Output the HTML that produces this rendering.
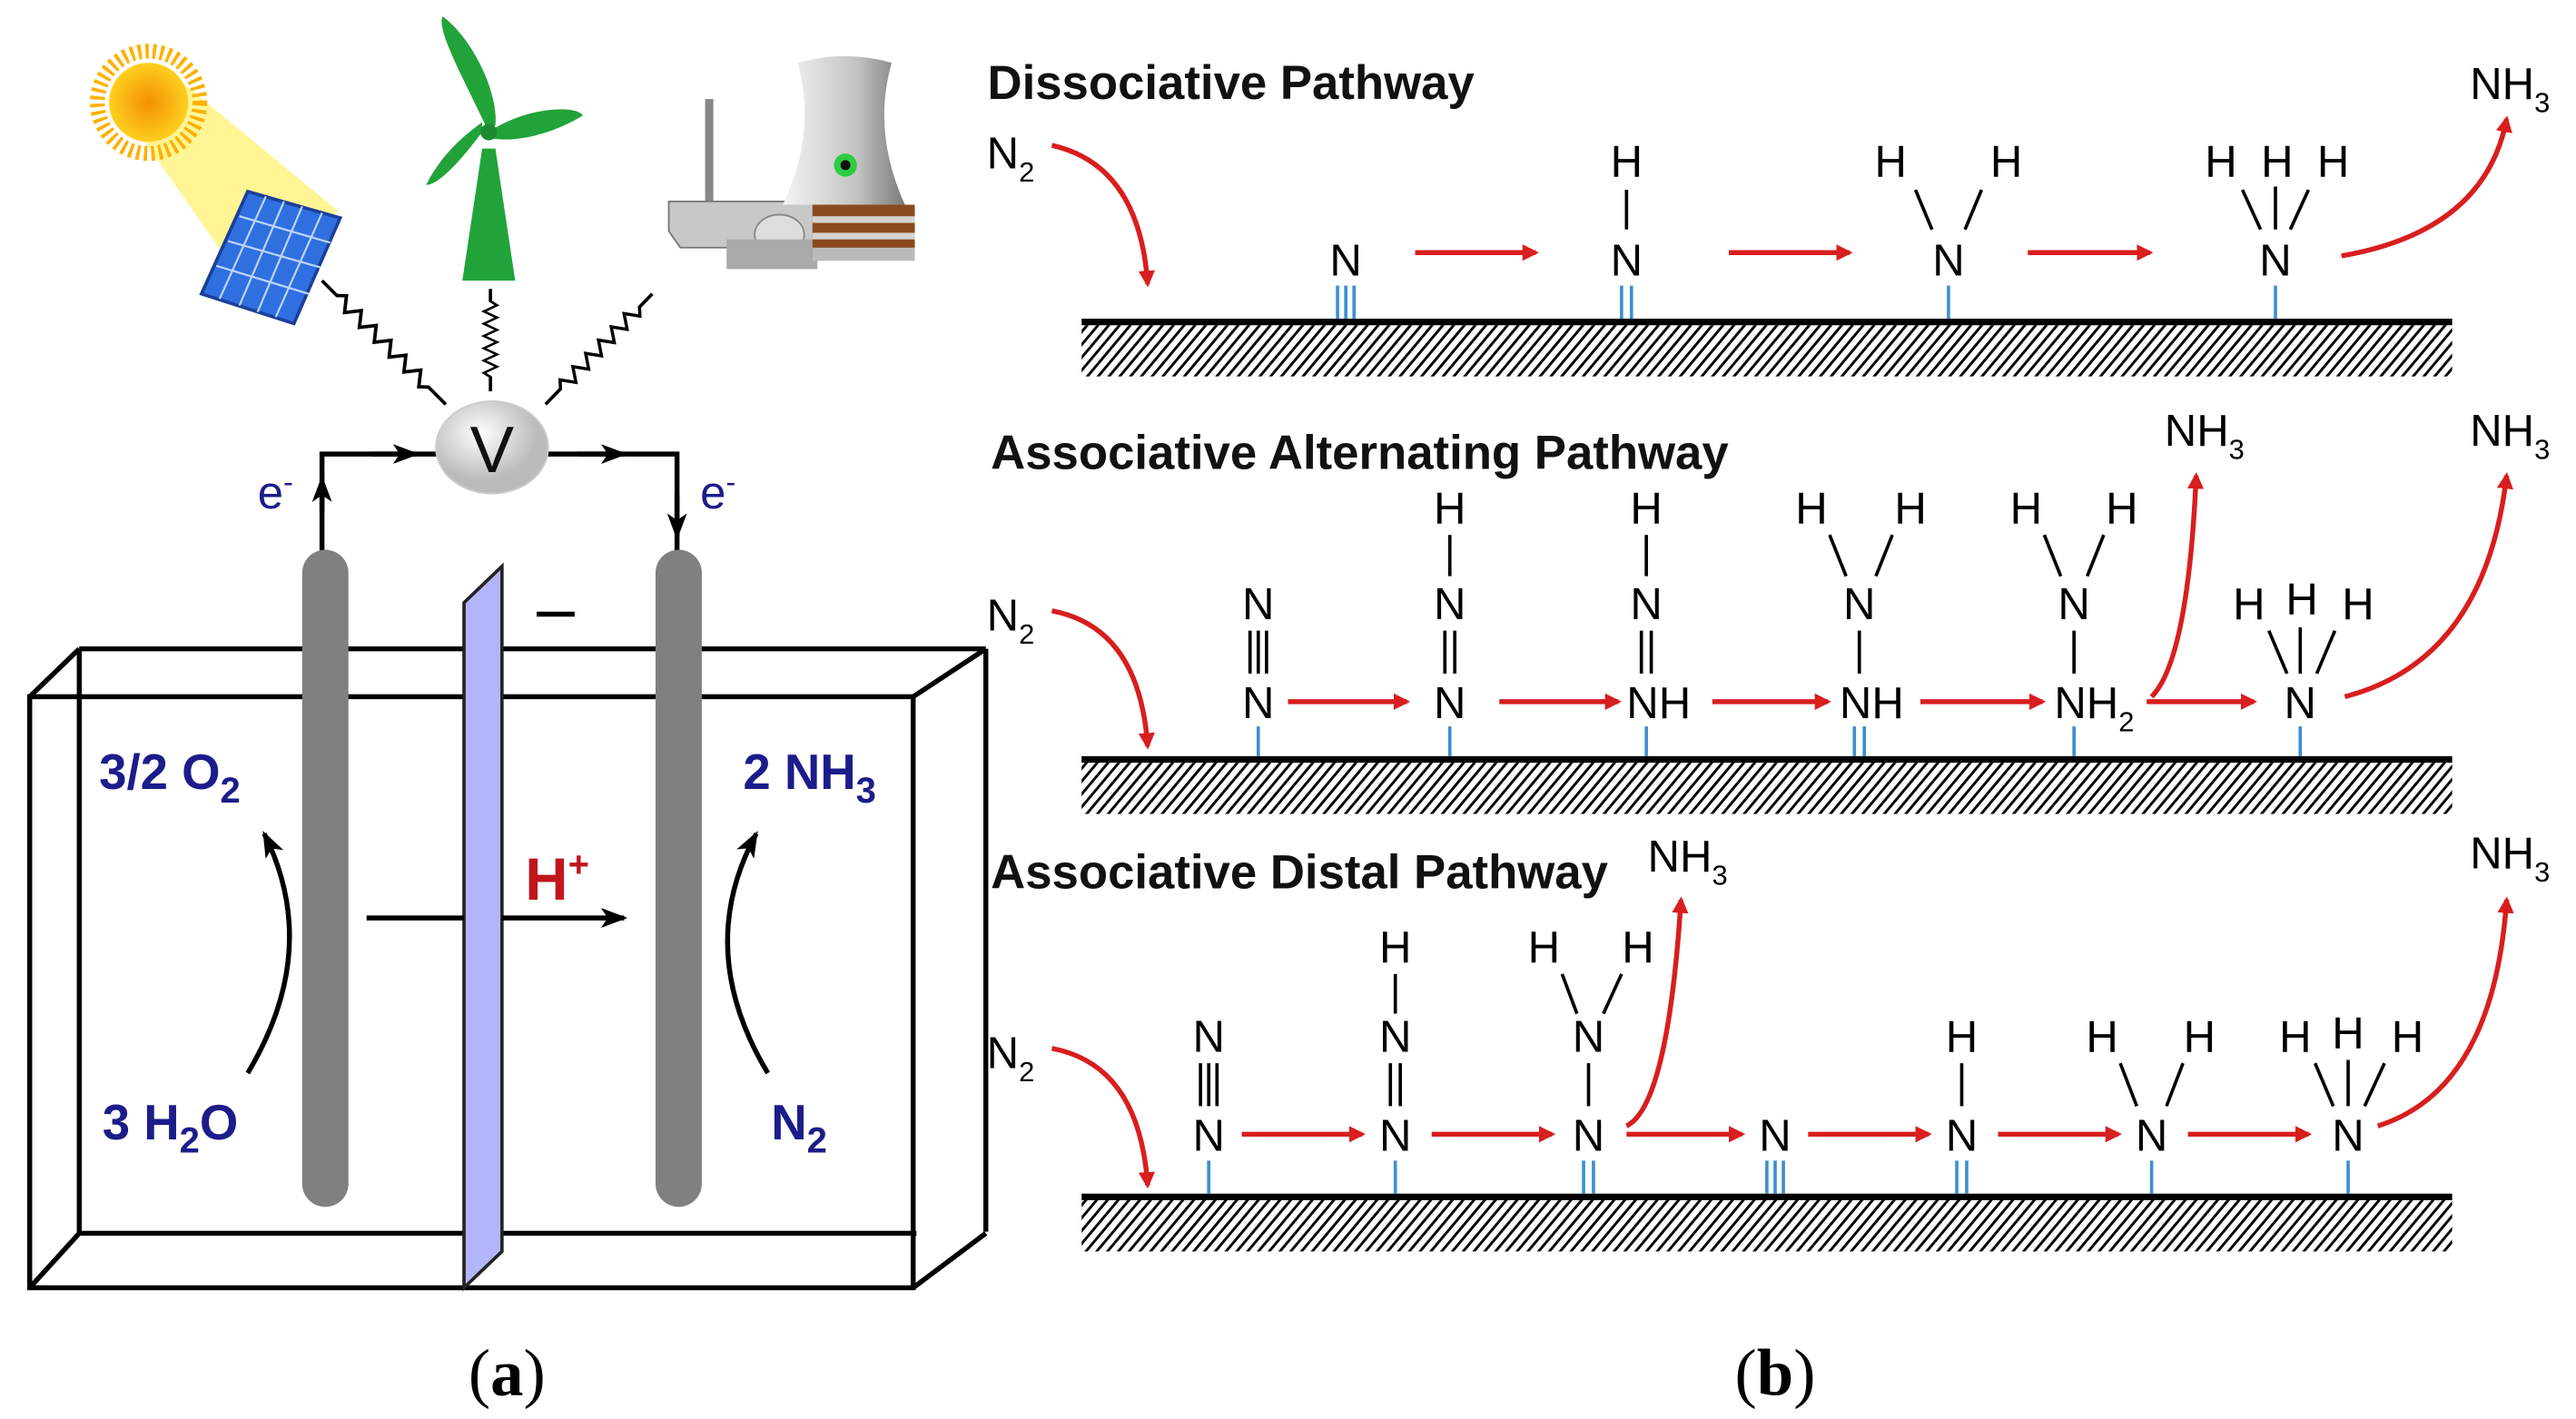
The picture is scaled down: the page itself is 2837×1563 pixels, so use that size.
<!DOCTYPE html>
<html><head><meta charset="utf-8"><style>
html,body{margin:0;padding:0;background:#fff;}
svg{display:block;}
.t{font-family:"Liberation Sans Narrow","Liberation Sans",sans-serif;font-size:27px;fill:#000;text-anchor:middle;}
.s{font-size:17px;}
.ti{font-family:"Liberation Sans Narrow","Liberation Sans",sans-serif;font-size:29px;font-weight:bold;fill:#111;}
.bl{font-family:"Liberation Sans",sans-serif;font-weight:bold;fill:#1c1c8a;font-size:30px;}
.bond{stroke:#000;stroke-width:2;}
.blue{stroke:#3d8fd0;stroke-width:2;}
.ra{stroke:#d81e1e;stroke-width:3;fill:none;marker-end:url(#rh);}
</style></head><body>
<svg width="2837" height="1563" viewBox="0 0 1560 859.5" preserveAspectRatio="none" xmlns="http://www.w3.org/2000/svg">
<defs>
<marker id="rh" markerWidth="10" markerHeight="10" refX="8" refY="5" orient="auto" markerUnits="userSpaceOnUse"><path d="M0,0 L10,5 L0,10 z" fill="#d81e1e"/></marker>
<marker id="bh" markerWidth="16" markerHeight="12" refX="14" refY="6" orient="auto" markerUnits="userSpaceOnUse"><path d="M0,0 L16,6 L0,12 L4,6 z" fill="#000"/></marker>
<pattern id="hatch" width="5" height="5" patternUnits="userSpaceOnUse" patternTransform="rotate(40)"><line x1="1" y1="0" x2="1" y2="5" stroke="#000" stroke-width="1.6"/></pattern>
<radialGradient id="sun"><stop offset="0" stop-color="#f39000"/><stop offset="1" stop-color="#ffcf20"/></radialGradient>
<radialGradient id="vg" cx="0.4" cy="0.35"><stop offset="0" stop-color="#fff"/><stop offset="1" stop-color="#bbb"/></radialGradient>
<linearGradient id="tw" x1="0" x2="1"><stop offset="0" stop-color="#f4f4f4"/><stop offset="0.6" stop-color="#c4c4c4"/><stop offset="1" stop-color="#7a7a7a"/></linearGradient>
<path id="zz" d="M0 0 L12 0 L16 -4 L22 4 L28 -4 L34 4 L40 -4 L46 4 L52 -4 L58 4 L64 -4 L70 4 L76 -4 L82 4 L86 0 L100 0" fill="none" stroke="#000" stroke-width="2"/>
</defs>

<!-- ===== Panel (a) ===== -->
<polygon points="78,72 108,48 205,128 150,175" fill="#fff48a" opacity="0.9"/>
<circle cx="90" cy="62" r="31" fill="none" stroke="#ffb000" stroke-dasharray="2 2.5" stroke-width="9"/>
<circle cx="90" cy="62" r="24" fill="url(#sun)"/>
<polygon points="122,178 178,196 206,132 150,116" fill="#2f6fe0" stroke="#1b3f9a" stroke-width="2"/>
<g stroke="#bcd6ff" stroke-width="1.2">
<line x1="131" y1="161" x2="187" y2="178"/><line x1="138" y1="146" x2="194" y2="162"/><line x1="145" y1="131" x2="200" y2="147"/>
<line x1="133" y1="181" x2="161" y2="119"/><line x1="145" y1="185" x2="172" y2="122"/><line x1="156" y1="189" x2="183" y2="125"/><line x1="167" y1="192" x2="195" y2="129"/>
</g>
<!-- wind turbine -->
<polygon points="292,90 300,90 312,170 280,170" fill="#22a33a"/>
<path d="M295,78 C282,50 264,18 268,10 C285,22 302,55 300,76 z" fill="#22a33a"/>
<path d="M299,78 C322,64 350,64 353,70 C333,82 312,86 299,84 z" fill="#22a33a"/>
<path d="M292,80 C280,96 266,112 258,112 C266,96 278,84 292,74 z" fill="#22a33a"/>
<circle cx="296" cy="80" r="5" fill="#1d8a30"/>
<!-- nuclear plant -->
<rect x="427" y="60" width="5" height="72" fill="#888"/>
<polygon points="405,122 500,122 500,150 412,150 405,140" fill="#c8c8c8" stroke="#777"/>
<path d="M483,38 Q512,30 540,38 Q528,80 548,124 L474,124 Q495,80 483,38 z" fill="url(#tw)"/>
<circle cx="512" cy="100" r="7" fill="#2ecc40"/><circle cx="512" cy="100" r="3" fill="#111"/>
<ellipse cx="472" cy="142" rx="15" ry="12" fill="#ddd" stroke="#888"/>
<rect x="440" y="145" width="55" height="18" fill="#aaa"/>
<rect x="492" y="124" width="62" height="32" fill="#8b4a1e"/>
<rect x="492" y="131" width="62" height="4" fill="#d4d4d4"/><rect x="492" y="141" width="62" height="4" fill="#d4d4d4"/>
<rect x="492" y="150" width="62" height="8" fill="#bbb"/>
<use href="#zz" transform="translate(195,170) rotate(45) scale(1.06,1)"/>
<use href="#zz" transform="translate(297,175) rotate(90) scale(0.62,1)"/>
<use href="#zz" transform="translate(395,178) rotate(134) scale(0.93,1)"/>
<polyline points="195,362 195,275 268,275" fill="none" stroke="#000" stroke-width="3"/>
<polyline points="330,275 410,275 410,362" fill="none" stroke="#000" stroke-width="3"/>
<path d="M195,310 L195,290" stroke="#000" stroke-width="3" marker-end="url(#bh)"/>
<path d="M225,275 L252,275" stroke="#000" stroke-width="3" marker-end="url(#bh)"/>
<path d="M350,275 L378,275" stroke="#000" stroke-width="3" marker-end="url(#bh)"/>
<path d="M410,300 L410,325" stroke="#000" stroke-width="3" marker-end="url(#bh)"/>
<ellipse cx="298" cy="271" rx="34" ry="28" fill="url(#vg)" stroke="#ccc"/>
<text x="298" y="286" text-anchor="middle" font-family="Liberation Sans,sans-serif" font-size="40" fill="#111">V</text>
<text x="156" y="308" class="bl" style="font-weight:normal;font-size:28px">e<tspan dy="-10" font-size="18">-</tspan></text>
<text x="424" y="308" class="bl" style="font-weight:normal;font-size:28px">e<tspan dy="-10" font-size="18">-</tspan></text>
<g stroke="#000" stroke-width="3" fill="none">
<line x1="48" y1="393" x2="597" y2="393"/>
<line x1="48" y1="393" x2="48" y2="747"/>
<line x1="48" y1="747" x2="555" y2="747"/>
<line x1="18" y1="422" x2="48" y2="393"/>
<line x1="553" y1="422" x2="597" y2="393"/>
<line x1="597" y1="393" x2="597" y2="746"/>
<line x1="553" y1="780" x2="597" y2="747"/>
<line x1="18" y1="780" x2="48" y2="747"/>
<rect x="18" y="422" width="535" height="358"/>
</g>
<rect x="183" y="333" width="28" height="398" rx="14" fill="#808080"/>
<rect x="397" y="333" width="28" height="398" rx="14" fill="#808080"/>
<polygon points="281,365 304,343 304,758 281,780" fill="#b4b4fa" stroke="#222" stroke-width="2"/>
<line x1="325" y1="372" x2="348" y2="372" stroke="#000" stroke-width="3"/>
<line x1="222" y1="556" x2="281" y2="556" stroke="#000" stroke-width="3"/>
<path d="M304,556 L378,556" stroke="#000" stroke-width="3" marker-end="url(#bh)"/>
<text x="318" y="545" font-family="Liberation Sans,sans-serif" font-weight="bold" font-size="36" fill="#c0161b">H<tspan dy="-14" font-size="22">+</tspan></text>
<text x="60" y="478" class="bl">3/2 O<tspan dy="8" font-size="22">2</tspan></text>
<text x="62" y="690" class="bl">3 H<tspan dy="8" font-size="22">2</tspan><tspan dy="-8">O</tspan></text>
<text x="450" y="478" class="bl">2 NH<tspan dy="8" font-size="22">3</tspan></text>
<text x="467" y="690" class="bl">N<tspan dy="8" font-size="22">2</tspan></text>
<path d="M150,650 Q195,575 160,505" fill="none" stroke="#000" stroke-width="3" marker-end="url(#bh)"/>
<path d="M465,650 Q420,575 458,505" fill="none" stroke="#000" stroke-width="3" marker-end="url(#bh)"/>
<text x="307" y="845" text-anchor="middle" font-family="Liberation Serif,serif" font-size="40">(<tspan font-weight="bold">a</tspan>)</text>

<!-- ===== Panel (b) ===== -->
<text x="598" y="60" class="ti">Dissociative Pathway</text>
<text x="600" y="284" class="ti">Associative Alternating Pathway</text>
<text x="600" y="538" class="ti">Associative Distal Pathway</text>

<rect x="655" y="197" width="830" height="31" fill="url(#hatch)"/>
<line x1="655" y1="195" x2="1485" y2="195" stroke="#000" stroke-width="4"/>
<rect x="655" y="462" width="830" height="31" fill="url(#hatch)"/>
<line x1="655" y1="460" x2="1485" y2="460" stroke="#000" stroke-width="4"/>
<rect x="655" y="727" width="830" height="31" fill="url(#hatch)"/>
<line x1="655" y1="725" x2="1485" y2="725" stroke="#000" stroke-width="4"/>

<!-- Row 1 -->
<text x="612" y="102" class="t">N<tspan class="s" dy="8">2</tspan></text>
<path class="ra" d="M637,88 Q690,100 695,172"/>
<text x="815" y="167" class="t">N</text>
<g class="blue"><line x1="810" y1="173" x2="810" y2="193"/><line x1="815" y1="173" x2="815" y2="193"/><line x1="820" y1="173" x2="820" y2="193"/></g>
<path class="ra" d="M857,153 L930,153"/>
<text x="985" y="167" class="t">N</text><text x="985" y="107" class="t">H</text>
<line class="bond" x1="985" y1="115" x2="985" y2="139"/>
<g class="blue"><line x1="982" y1="173" x2="982" y2="193"/><line x1="988" y1="173" x2="988" y2="193"/></g>
<path class="ra" d="M1047,153 L1120,153"/>
<text x="1180" y="167" class="t">N</text><text x="1145" y="107" class="t">H</text><text x="1215" y="107" class="t">H</text>
<line class="bond" x1="1160" y1="115" x2="1170" y2="139"/><line class="bond" x1="1200" y1="115" x2="1190" y2="139"/>
<line class="blue" x1="1180" y1="173" x2="1180" y2="193"/>
<path class="ra" d="M1228,153 L1302,153"/>
<text x="1378" y="167" class="t">N</text><text x="1345" y="107" class="t">H</text><text x="1379" y="107" class="t">H</text><text x="1413" y="107" class="t">H</text>
<line class="bond" x1="1358" y1="115" x2="1369" y2="139"/><line class="bond" x1="1378" y1="113" x2="1378" y2="139"/><line class="bond" x1="1398" y1="115" x2="1387" y2="139"/>
<line class="blue" x1="1378" y1="173" x2="1378" y2="193"/>
<path class="ra" d="M1418,155 Q1505,140 1518,72"/>
<text x="1520" y="60" class="t">NH<tspan class="s" dy="8">3</tspan></text>

<!-- Row 2 -->
<text x="612" y="382" class="t">N<tspan class="s" dy="8">2</tspan></text>
<path class="ra" d="M637,370 Q690,380 695,452"/>
<text x="762" y="435" class="t">N</text><text x="762" y="375" class="t">N</text>
<g class="bond"><line x1="757" y1="382" x2="757" y2="408"/><line x1="762" y1="382" x2="762" y2="408"/><line x1="767" y1="382" x2="767" y2="408"/></g>
<line class="blue" x1="762" y1="440" x2="762" y2="458"/>
<path class="ra" d="M780,425 L852,425"/>
<text x="878" y="435" class="t">N</text><text x="878" y="375" class="t">N</text><text x="878" y="317" class="t">H</text>
<g class="bond"><line x1="875" y1="382" x2="875" y2="408"/><line x1="881" y1="382" x2="881" y2="408"/><line x1="878" y1="324" x2="878" y2="349"/></g>
<line class="blue" x1="878" y1="440" x2="878" y2="458"/>
<path class="ra" d="M908,425 L980,425"/>
<text x="985" y="435" class="t" style="text-anchor:start">NH</text><text x="997" y="375" class="t">N</text><text x="997" y="317" class="t">H</text>
<g class="bond"><line x1="994" y1="382" x2="994" y2="408"/><line x1="1000" y1="382" x2="1000" y2="408"/><line x1="997" y1="324" x2="997" y2="349"/></g>
<line class="blue" x1="997" y1="440" x2="997" y2="458"/>
<path class="ra" d="M1037,425 L1107,425"/>
<text x="1114" y="435" class="t" style="text-anchor:start">NH</text><text x="1126" y="375" class="t">N</text><text x="1097" y="317" class="t">H</text><text x="1157" y="317" class="t">H</text>
<g class="bond"><line x1="1126" y1="382" x2="1126" y2="408"/><line x1="1108" y1="324" x2="1118" y2="349"/><line x1="1146" y1="324" x2="1136" y2="349"/></g>
<g class="blue"><line x1="1123" y1="440" x2="1123" y2="458"/><line x1="1129" y1="440" x2="1129" y2="458"/></g>
<path class="ra" d="M1163,425 L1237,425"/>
<text x="1244" y="435" class="t" style="text-anchor:start">NH<tspan class="s" dy="8">2</tspan></text><text x="1256" y="375" class="t">N</text><text x="1227" y="317" class="t">H</text><text x="1285" y="317" class="t">H</text>
<g class="bond"><line x1="1256" y1="382" x2="1256" y2="408"/><line x1="1238" y1="324" x2="1248" y2="349"/><line x1="1274" y1="324" x2="1264" y2="349"/></g>
<line class="blue" x1="1256" y1="440" x2="1256" y2="458"/>
<path class="ra" d="M1303,422 Q1325,400 1330,288"/>
<text x="1335" y="270" class="t">NH<tspan class="s" dy="8">3</tspan></text>
<path class="ra" d="M1300,425 L1365,425"/>
<text x="1393" y="435" class="t">N</text><text x="1362" y="375" class="t">H</text><text x="1394" y="372" class="t">H</text><text x="1428" y="375" class="t">H</text>
<g class="bond"><line x1="1374" y1="382" x2="1385" y2="408"/><line x1="1393" y1="380" x2="1393" y2="408"/><line x1="1414" y1="382" x2="1403" y2="408"/></g>
<line class="blue" x1="1393" y1="440" x2="1393" y2="458"/>
<path class="ra" d="M1420,422 Q1505,400 1518,288"/>
<text x="1520" y="270" class="t">NH<tspan class="s" dy="8">3</tspan></text>

<!-- Row 3 -->
<text x="612" y="647" class="t">N<tspan class="s" dy="8">2</tspan></text>
<path class="ra" d="M637,635 Q690,645 695,718"/>
<text x="732" y="697" class="t">N</text><text x="732" y="637" class="t">N</text>
<g class="bond"><line x1="727" y1="644" x2="727" y2="670"/><line x1="732" y1="644" x2="732" y2="670"/><line x1="737" y1="644" x2="737" y2="670"/></g>
<line class="blue" x1="732" y1="703" x2="732" y2="723"/>
<path class="ra" d="M752,687 L825,687"/>
<text x="845" y="697" class="t">N</text><text x="845" y="637" class="t">N</text><text x="845" y="583" class="t">H</text>
<g class="bond"><line x1="842" y1="644" x2="842" y2="670"/><line x1="848" y1="644" x2="848" y2="670"/><line x1="845" y1="590" x2="845" y2="614"/></g>
<line class="blue" x1="845" y1="703" x2="845" y2="723"/>
<path class="ra" d="M867,687 L940,687"/>
<text x="962" y="697" class="t">N</text><text x="962" y="637" class="t">N</text><text x="935" y="583" class="t">H</text><text x="992" y="583" class="t">H</text>
<g class="bond"><line x1="962" y1="644" x2="962" y2="670"/><line x1="946" y1="590" x2="955" y2="614"/><line x1="982" y1="590" x2="971" y2="614"/></g>
<g class="blue"><line x1="959" y1="703" x2="959" y2="723"/><line x1="965" y1="703" x2="965" y2="723"/></g>
<path class="ra" d="M985,682 Q1010,670 1018,545"/>
<text x="1022" y="528" class="t">NH<tspan class="s" dy="8">3</tspan></text>
<path class="ra" d="M985,687 L1055,687"/>
<text x="1075" y="697" class="t">N</text>
<g class="blue"><line x1="1070" y1="703" x2="1070" y2="723"/><line x1="1075" y1="703" x2="1075" y2="723"/><line x1="1080" y1="703" x2="1080" y2="723"/></g>
<path class="ra" d="M1095,687 L1168,687"/>
<text x="1188" y="697" class="t">N</text><text x="1188" y="637" class="t">H</text>
<line class="bond" x1="1188" y1="644" x2="1188" y2="670"/>
<g class="blue"><line x1="1185" y1="703" x2="1185" y2="723"/><line x1="1191" y1="703" x2="1191" y2="723"/></g>
<path class="ra" d="M1210,687 L1283,687"/>
<text x="1303" y="697" class="t">N</text><text x="1273" y="637" class="t">H</text><text x="1332" y="637" class="t">H</text>
<g class="bond"><line x1="1284" y1="644" x2="1294" y2="670"/><line x1="1322" y1="644" x2="1312" y2="670"/></g>
<line class="blue" x1="1303" y1="703" x2="1303" y2="723"/>
<path class="ra" d="M1325,687 L1398,687"/>
<text x="1422" y="697" class="t">N</text><text x="1390" y="637" class="t">H</text><text x="1422" y="635" class="t">H</text><text x="1458" y="637" class="t">H</text>
<g class="bond"><line x1="1402" y1="644" x2="1413" y2="670"/><line x1="1422" y1="642" x2="1422" y2="670"/><line x1="1444" y1="644" x2="1432" y2="670"/></g>
<line class="blue" x1="1422" y1="703" x2="1422" y2="723"/>
<path class="ra" d="M1440,682 Q1510,660 1518,545"/>
<text x="1520" y="526" class="t">NH<tspan class="s" dy="8">3</tspan></text>

<text x="1075" y="845" text-anchor="middle" font-family="Liberation Serif,serif" font-size="40">(<tspan font-weight="bold">b</tspan>)</text>
</svg>
</body></html>
